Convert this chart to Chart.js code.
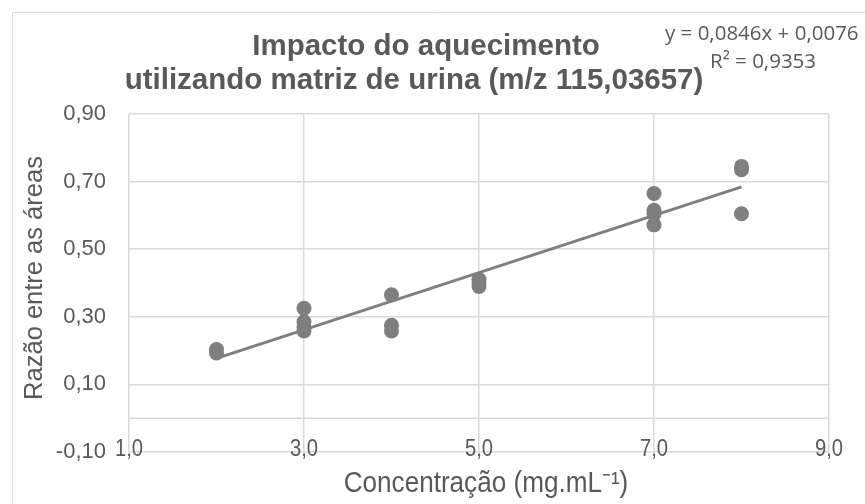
<!DOCTYPE html>
<html>
<head>
<meta charset="utf-8">
<script src="https://cdn.jsdelivr.net/npm/chart.js@4.4.1/dist/chart.umd.min.js"></script>
<style>
  html, body { margin: 0; padding: 0; background: #ffffff; }
  #wrap { width: 865px; height: 504px; position: relative; }
</style>
</head>
<body>
<div id="wrap"><canvas id="c" width="865" height="504"></canvas></div>
<script>
// ---- Data ----
const concentrations = [2, 2, 3, 3, 3, 3, 4, 4, 4, 5, 5, 5, 7, 7, 7, 7, 8, 8, 8];
const areaRatios     = [0.203, 0.193, 0.325, 0.285, 0.270, 0.258, 0.365, 0.275, 0.258,
                        0.410, 0.400, 0.390, 0.665, 0.615, 0.605, 0.572, 0.745, 0.735, 0.605];
const trendX = [2, 8];
const trendCoef = [0.0846, 0.0076]; // slope, intercept (from the equation shown)
const xTicks = [1, 3, 5, 7, 9];
const yTicks = [-0.10, 0.10, 0.30, 0.50, 0.70, 0.90];
const xTickLabels = ['1,0', '3,0', '5,0', '7,0', '9,0'];
const yTickLabels = ['-0,10', '0,10', '0,30', '0,50', '0,70', '0,90'];
const titleLines = ['Impacto do aquecimento', 'utilizando matriz de urina (m/z 115,03657)'];
const equationLines = ['y = 0,0846x + 0,0076', 'R² = 0,9353'];
const xTitle = 'Concentração (mg.mL⁻¹)';
const yTitle = 'Razão entre as áreas';

const GREY = '#7f7f7f';
const TEXT = '#595959';
const GRID = '#d9d9d9';

const points = concentrations.map((x, i) => ({ x: x, y: areaRatios[i] }));
const trendPoints = trendX.map(x => ({ x: x, y: trendCoef[0] * x + trendCoef[1] }));

const extras = {
  id: 'extras',
  beforeDatasetsDraw(chart) {
    const ctx = chart.ctx;
    const xs = chart.scales.x, ys = chart.scales.y;
    // horizontal axis line crossing at y = 0
    const y0 = Math.round(ys.getPixelForValue(0)) + 0.25;
    ctx.save();
    ctx.strokeStyle = GRID;
    ctx.lineWidth = 1.5;
    ctx.beginPath();
    ctx.moveTo(xs.left, y0);
    ctx.lineTo(xs.right, y0);
    ctx.stroke();
    ctx.restore();
  },
  afterDraw(chart) {
    const ctx = chart.ctx;
    const xs = chart.scales.x, ys = chart.scales.y;
    ctx.save();
    // chart frame (top & left edges visible)
    ctx.strokeStyle = GRID;
    ctx.lineWidth = 1;
    ctx.beginPath();
    ctx.moveTo(12.5, 504);
    ctx.lineTo(12.5, 12.5);
    ctx.lineTo(865, 12.5);
    ctx.stroke();

    ctx.fillStyle = TEXT;

    // x tick labels, sitting on the bottom gridline (low position)
    const yLow = ys.getPixelForValue(yTicks[0]);
    ctx.textAlign = 'center';
    ctx.textBaseline = 'middle';
    xTicks.forEach((v, i) => {
      ctx.save();
      ctx.translate(xs.getPixelForValue(v), yLow - 2);
      ctx.scale(0.88, 1);
      ctx.font = '23px "Liberation Sans", Arial, sans-serif';
      ctx.fillText(xTickLabels[i], 0, 0);
      ctx.restore();
    });

    // title
    ctx.textAlign = 'center';
    ctx.textBaseline = 'alphabetic';
    ctx.font = 'bold 29.5px "Liberation Sans", Arial, sans-serif';
    ctx.fillText(titleLines[0], 426, 55);
    ctx.fillText(titleLines[1], 414, 89);

    // y axis title
    ctx.save();
    ctx.translate(35, 278);
    ctx.rotate(-Math.PI / 2);
    ctx.font = '25.5px "Liberation Sans", Arial, sans-serif';
    ctx.textBaseline = 'middle';
    ctx.fillText(yTitle, 0, 0);
    ctx.restore();

    // x axis title (condensed look)
    ctx.save();
    ctx.translate(486, 484);
    ctx.scale(0.9, 1);
    ctx.font = '29px "Liberation Sans", Arial, sans-serif';
    ctx.textBaseline = 'middle';
    ctx.fillText(xTitle, 0, 0);
    ctx.restore();

    // trendline equation
    ctx.font = '20.5px "Open Sans", sans-serif';
    ctx.textAlign = 'left';
    ctx.textBaseline = 'alphabetic';
    ctx.fillText(equationLines[0], 665, 40);
    ctx.fillText(equationLines[1], 710, 68);
    ctx.restore();
  }
};

new Chart(document.getElementById('c'), {
  type: 'scatter',
  data: {
    datasets: [
      {
        type: 'line',
        data: trendPoints,
        borderColor: GREY,
        borderWidth: 3,
        pointRadius: 0,
        fill: false
      },
      {
        data: points,
        backgroundColor: GREY,
        borderWidth: 0,
        pointRadius: 7.5,
        pointHoverRadius: 7.5
      }
    ]
  },
  options: {
    responsive: false,
    animation: false,
    events: [],
    layout: { padding: { left: 0, right: 36, top: 114, bottom: 0 } },
    plugins: { legend: { display: false }, tooltip: { enabled: false }, title: { display: false } },
    scales: {
      x: {
        type: 'linear',
        min: 1, max: 9,
        afterBuildTicks: s => { s.ticks = xTicks.map(v => ({ value: v })); },
        afterFit: s => { s.height = 52; },
        border: { display: false },
        grid: { color: GRID, lineWidth: 1.5, drawTicks: false },
        ticks: { display: false }
      },
      y: {
        type: 'linear',
        min: -0.10, max: 0.90,
        afterBuildTicks: s => { s.ticks = yTicks.map(v => ({ value: v })); },
        afterFit: s => { s.width = 129; },
        border: { display: false },
        grid: { color: GRID, lineWidth: 1.5, drawTicks: false },
        ticks: {
          padding: 23,
          color: TEXT,
          font: { family: '"Liberation Sans", Arial, sans-serif', size: 22 },
          callback: (v, i) => yTickLabels[i]
        }
      }
    }
  },
  plugins: [extras]
});
</script>
</body>
</html>
